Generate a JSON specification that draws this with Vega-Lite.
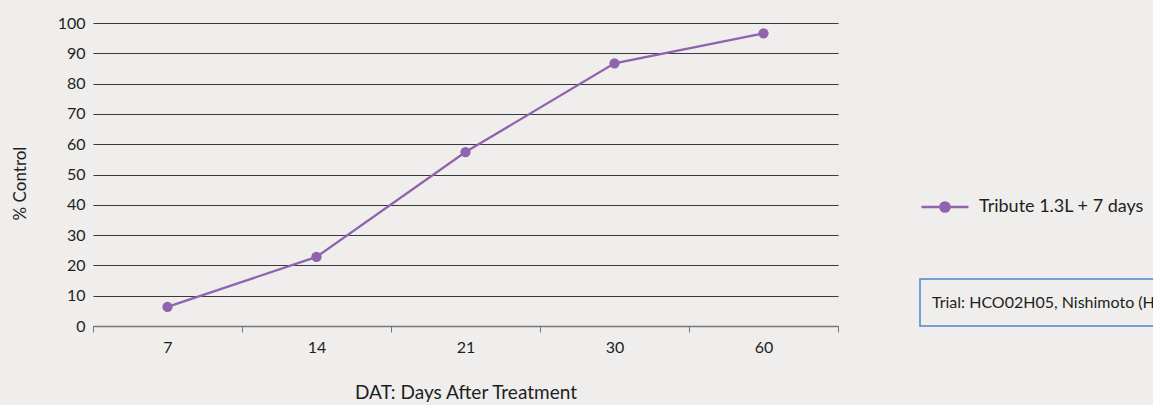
{
  "$schema": "https://vega.github.io/schema/vega-lite/v6.json",
  "width": 745,
  "height": 303,
  "autosize": {"type": "none"},
  "padding": {"left": 93, "top": 23, "right": 315, "bottom": 79},
  "background": "#efeeec",
  "config": {
    "view": {"stroke": null},
    "font": "Lato",
    "axis": {"labelFont": "Lato", "titleFont": "Lato", "labelColor": "#1e1e1e", "titleColor": "#1e1e1e", "titleFontWeight": "normal"},
    "legend": {"labelFont": "Lato", "labelColor": "#1e1e1e"}
  },
  "data": {
    "values": [
      {"dat": "7", "control": 6.3, "series": "Tribute 1.3L + 7 days", "trial": "Trial: HCO02H05, Nishimoto (HI)"},
      {"dat": "14", "control": 22.8, "series": "Tribute 1.3L + 7 days", "trial": "Trial: HCO02H05, Nishimoto (HI)"},
      {"dat": "21", "control": 57.4, "series": "Tribute 1.3L + 7 days", "trial": "Trial: HCO02H05, Nishimoto (HI)"},
      {"dat": "30", "control": 86.7, "series": "Tribute 1.3L + 7 days", "trial": "Trial: HCO02H05, Nishimoto (HI)"},
      {"dat": "60", "control": 96.6, "series": "Tribute 1.3L + 7 days", "trial": "Trial: HCO02H05, Nishimoto (HI)"}
    ]
  },
  "encoding": {
    "x": {
      "field": "dat",
      "type": "ordinal",
      "sort": null,
      "scale": {"paddingInner": 0, "paddingOuter": 0},
      "axis": {
        "title": "DAT: Days After Treatment",
        "titleFontSize": 19,
        "titlePadding": 28,
        "labelFontSize": 16,
        "labelAngle": 0,
        "labelPadding": 7,
        "tickBand": "extent",
        "ticks": true,
        "tickSize": 6,
        "tickColor": "#777",
        "domainColor": "#777",
        "domainWidth": 1.5,
        "grid": false
      }
    },
    "y": {
      "field": "control",
      "type": "quantitative",
      "scale": {"domain": [0, 100]},
      "axis": {
        "title": "% Control",
        "titleFontSize": 17,
        "titlePadding": 28,
        "titleY": 160,
        "labelFontSize": 16,
        "labelPadding": 8,
        "values": [0, 10, 20, 30, 40, 50, 60, 70, 80, 90, 100],
        "ticks": false,
        "domain": false,
        "grid": true,
        "gridColor": "#3a3a3a",
        "gridWidth": 1
      }
    },
    "color": {
      "field": "series",
      "type": "nominal",
      "scale": {"range": ["#8f63ad"]},
      "legend": {
        "title": null,
        "orient": "none",
        "legendX": 827,
        "legendY": 159,
        "padding": 0,
        "symbolType": "M-1,0H1M-0.2,0A0.2,0.2,0,1,1,0.2,0A0.2,0.2,0,1,1,-0.2,0Z",
        "symbolSize": 2209,
        "symbolStrokeWidth": 2.3,
        "symbolFillColor": "#8f63ad",
        "symbolStrokeColor": "#8f63ad",
        "labelFontSize": 18,
        "labelOffset": 9,
        "labelLimit": 400
      }
    },
    "opacity": {
      "field": "trial",
      "type": "ordinal",
      "scale": {"range": [1]},
      "legend": {
        "title": null,
        "orient": "none",
        "legendX": 827,
        "legendY": 256,
        "padding": 12,
        "strokeColor": "#4a86c8",
        "symbolType": "M0,-1V1",
        "symbolSize": 529,
        "symbolOpacity": 0,
        "symbolStrokeWidth": 0,
        "labelFontSize": 16,
        "labelOffset": -23,
        "labelLimit": 600,
        "encode": {"legend": {"update": {"strokeWidth": {"value": 1.5}}}}
      }
    }
  },
  "layer": [
    {"mark": {"type": "line", "strokeWidth": 2.3}},
    {"mark": {"type": "point", "filled": true, "size": 105, "opacity": 1}}
  ]
}
